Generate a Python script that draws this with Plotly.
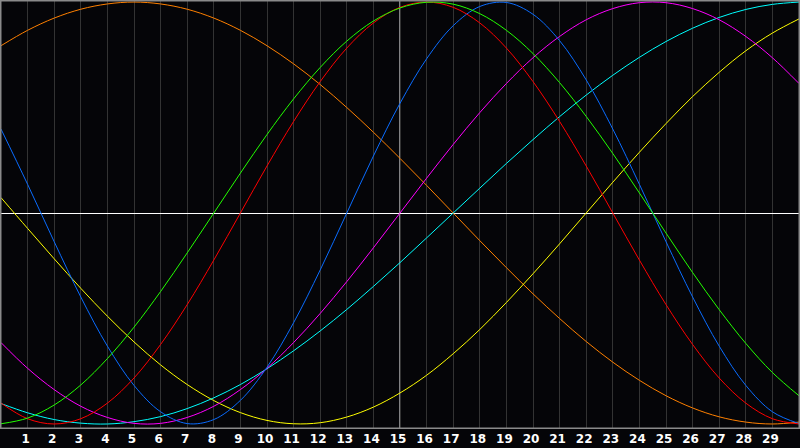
import plotly.graph_objects as go

# day index along the bottom (0 .. 30), labels only for 1 .. 29
days = list(range(0, 31))
label_days = list(range(1, 30))
label_text = [str(d) for d in label_days]
today = 15

# cycle values, one per day
physical = [0.398, 0.136, -0.136, -0.398, -0.631, -0.817, -0.942, -0.998, -0.979, -0.888, -0.731, -0.520, -0.270,
            0.000, 0.270, 0.520, 0.731, 0.888, 0.979, 0.998, 0.942, 0.817, 0.631, 0.398, 0.136, -0.136, -0.398,
            -0.631, -0.817, -0.942, -0.998]
emotional = [-0.901, -0.975, -1.000, -0.975, -0.901, -0.782, -0.623, -0.434, -0.223, 0.000, 0.223, 0.434, 0.623,
             0.782, 0.901, 0.975, 1.000, 0.975, 0.901, 0.782, 0.623, 0.434, 0.223, 0.000, -0.223, -0.434, -0.623,
             -0.782, -0.901, -0.975, -1.000]
intellectual = [-0.999, -0.972, -0.910, -0.815, -0.690, -0.541, -0.372, -0.189, 0.000, 0.189, 0.372, 0.541, 0.690,
                0.815, 0.910, 0.972, 0.999, 0.990, 0.945, 0.866, 0.756, 0.618, 0.458, 0.282, 0.095, -0.095, -0.282,
                -0.458, -0.618, -0.756, -0.866]
intuitive = [-0.614, -0.736, -0.837, -0.916, -0.969, -0.997, -0.997, -0.969, -0.916, -0.837, -0.736, -0.614, -0.476,
             -0.325, -0.165, 0.000, 0.165, 0.325, 0.476, 0.614, 0.736, 0.837, 0.916, 0.969, 0.997, 0.997, 0.969,
             0.916, 0.837, 0.736, 0.614]
aesthetic = [0.073, -0.073, -0.217, -0.357, -0.489, -0.611, -0.720, -0.813, -0.889, -0.946, -0.983, -0.999, -0.994,
             -0.967, -0.920, -0.853, -0.769, -0.667, -0.552, -0.424, -0.288, -0.146, 0.000, 0.146, 0.288, 0.424,
             0.552, 0.667, 0.769, 0.853, 0.920]
awareness = [0.793, 0.866, 0.924, 0.966, 0.991, 1.000, 0.991, 0.966, 0.924, 0.866, 0.793, 0.707, 0.609, 0.500, 0.383,
             0.259, 0.131, 0.000, -0.131, -0.259, -0.383, -0.500, -0.609, -0.707, -0.793, -0.866, -0.924, -0.966,
             -0.991, -1.000, -0.991]
spiritual = [-0.903, -0.947, -0.979, -0.996, -1.000, -0.989, -0.965, -0.927, -0.876, -0.813, -0.738, -0.653, -0.559,
             -0.457, -0.348, -0.235, -0.118, 0.000, 0.118, 0.235, 0.348, 0.457, 0.559, 0.653, 0.738, 0.813, 0.876,
             0.927, 0.965, 0.989, 1.000]

series = [
    ('Awareness', awareness, '#ff8000'),
    ('Aesthetic', aesthetic, '#ffff00'),
    ('Spiritual', spiritual, '#00ffff'),
    ('Intuitive', intuitive, '#ff00ff'),
    ('Physical', physical, '#0a6cff'),
    ('Emotional', emotional, '#ff0000'),
    ('Intellectual', intellectual, '#22ff00'),
]

fig = go.Figure()

for name, vals, col in series:
    fig.add_trace(go.Scatter(
        x=days, y=vals, name=name, mode='lines',
        line=dict(color=col, width=1, shape='spline', smoothing=1.0),
        hoverinfo='skip',
    ))

# today marker
fig.add_shape(type='line', xref='x', yref='paper', x0=today, x1=today, y0=0, y1=1,
              line=dict(color='white', width=1), layer='between')

# gray frame round the plot area
fig.add_shape(type='rect', xref='paper', yref='paper', x0=0, x1=1, y0=0, y1=1,
              line=dict(color='#8a8a8a', width=1), layer='above')

fig.update_layout(
    width=800,
    height=448,
    showlegend=False,
    paper_bgcolor='#050508',
    plot_bgcolor='#050508',
    margin=dict(l=1, r=1, t=1, b=20),
    xaxis=dict(
        range=[0, 30],
        tickvals=label_days,
        ticktext=label_text,
        tickfont=dict(family='DejaVu Sans', size=12, color='white', weight='bold'),
        ticklabelshift=-2,
        ticks='',
        showgrid=True,
        gridcolor='#333333',
        gridwidth=1,
        zeroline=False,
        showline=True,
        mirror=True,
        linecolor='#8a8a8a',
        linewidth=1,
        fixedrange=True,
    ),
    yaxis=dict(
        range=[-1.019, 1.005],
        showticklabels=False,
        ticks='',
        showgrid=False,
        zeroline=True,
        zerolinecolor='white',
        zerolinewidth=1,
        showline=True,
        mirror=True,
        linecolor='#8a8a8a',
        linewidth=1,
        fixedrange=True,
    ),
)

# page body has a default 8px margin; drop it so the chart fills the window
fig.write_html("out.html",
               config={'displayModeBar': False},
               post_script="document.body.style.margin='0px';document.body.style.overflow='hidden';"
                           "document.body.style.background='#050508';")
